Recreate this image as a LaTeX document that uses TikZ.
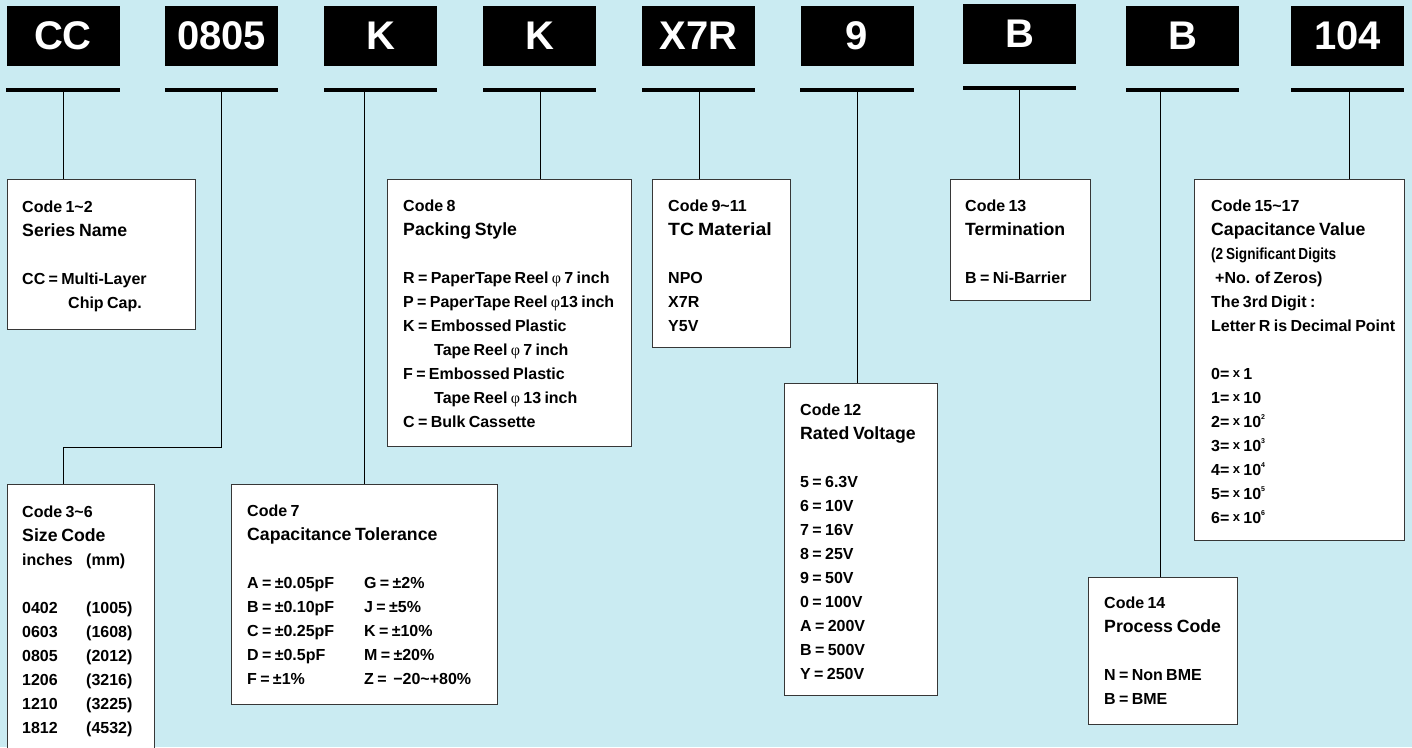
\documentclass[tikz,border=0pt]{standalone}
\usepackage{fontspec}
\setmainfont{Liberation Sans}[WordSpace=0.75]
\newfontfamily\phifont{Liberation Serif}
\usepackage{graphicx}
\definecolor{bgblue}{RGB}{202,235,242}
\definecolor{boxline}{RGB}{55,55,55}
\newcommand\cttl{\fontsize{17.7pt}{24pt}\selectfont}
\newcommand\phis{{\phifont\mdseries φ}}
\newcommand\xt{{\fontsize{13pt}{24pt}\selectfont\raisebox{2pt}{x}}}
\newcommand\supx[1]{\raisebox{8pt}{\fontsize{7pt}{7pt}\selectfont #1}}
\newcommand\lead{\rule{0pt}{12pt}}
\newcommand\tld{\textasciitilde}
\tikzset{
  hdr/.style={fill=black, text=white, font=\bfseries\fontsize{40pt}{40pt}\selectfont,
    minimum width=113pt, minimum height=60pt, inner sep=0pt},
  uline/.style={line width=4pt, black},
  codebox/.style={draw=boxline, fill=white, line width=1.3pt, anchor=north west, inner sep=0pt},
  codetext/.style={anchor=north west, inner sep=0pt, align=left,
    font=\bfseries\fontsize{16pt}{24pt}\selectfont},
  conn/.style={line width=1pt, black}
}
\begin{document}
\begin{tikzpicture}[x=1pt,y=-1pt]
\useasboundingbox[fill=bgblue] (0,0) rectangle (1412,747);

% header boxes
\node[hdr] (h1) at (63,36) {CC};
\node[hdr] (h2) at (221.5,36) {0805};
\node[hdr] (h3) at (380.5,36) {K};
\node[hdr] (h4) at (539.5,36) {K};
\node[hdr] (h5) at (698.5,36) {X7R};
\node[hdr] (h6) at (857,36) {9};
\node[hdr] (h7) at (1019.5,34) {B};
\node[hdr] (h8) at (1182.5,36) {B};
\node[hdr] (h9) at (1347.5,36) {104};

% underlines
\draw[uline] (6,90) -- (120,90);
\draw[uline] (165,90) -- (278,90);
\draw[uline] (324,90) -- (437,90);
\draw[uline] (483,90) -- (596,90);
\draw[uline] (642,90) -- (755,90);
\draw[uline] (800,90) -- (914,90);
\draw[uline] (963,88) -- (1076,88);
\draw[uline] (1126,90) -- (1239,90);
\draw[uline] (1291,90) -- (1404,90);

\coordinate (u1) at (63,92);
\coordinate (u2) at (221,92);
\coordinate (u3) at (364,92);
\coordinate (u4) at (540,92);
\coordinate (u5) at (699,92);
\coordinate (u6) at (857,92);
\coordinate (u7) at (1019,90);
\coordinate (u8) at (1160,92);
\coordinate (u9) at (1349,92);
\coordinate (k2) at (63,447);

% code boxes
\node[codebox, minimum width=188pt, minimum height=150pt] (b12) at (7,179) {};
\node[codebox, minimum width=147pt, minimum height=280pt] (b36) at (7,484) {};
\node[codebox, minimum width=266pt, minimum height=220pt] (b7) at (231,484) {};
\node[codebox, minimum width=244pt, minimum height=267pt] (b8) at (387,179) {};
\node[codebox, minimum width=138pt, minimum height=168pt] (b911) at (652,179) {};
\node[codebox, minimum width=153pt, minimum height=312pt] (bv) at (784,383) {};
\node[codebox, minimum width=140pt, minimum height=121pt] (b13) at (950,179) {};
\node[codebox, minimum width=149pt, minimum height=147pt] (b14) at (1088,577) {};
\node[codebox, minimum width=210pt, minimum height=361pt] (b1517) at (1194,179) {};

% connectors
\draw[conn] (u1) -- (u1 |- b12.north);
\draw[conn] (u2) |- (k2) -- (k2 |- b36.north);
\draw[conn] (u3) -- (u3 |- b7.north);
\draw[conn] (u4) -- (u4 |- b8.north);
\draw[conn] (u5) -- (u5 |- b911.north);
\draw[conn] (u6) -- (u6 |- bv.north);
\draw[conn] (u7) -- (u7 |- b13.north);
\draw[conn] (u8) -- (u8 |- b14.north);
\draw[conn] (u9) -- (u9 |- b1517.north);

% texts
\node[codetext] (t12) at (22,200) {\lead Code 1\tld2\\
{\cttl Series Name}\\[24pt]
CC = Multi-Layer\\
\hspace*{46pt}Chip Cap.};

\node[codetext] (t36) at (22,505) {\lead Code 3\tld6\\
{\cttl Size Code}\\
\makebox[64pt][l]{inches}(mm)\\[24pt]
\makebox[64pt][l]{0402}(1005)\\
\makebox[64pt][l]{0603}(1608)\\
\makebox[64pt][l]{0805}(2012)\\
\makebox[64pt][l]{1206}(3216)\\
\makebox[64pt][l]{1210}(3225)\\
\makebox[64pt][l]{1812}(4532)};

\node[codetext] (t7) at (247,504) {\lead Code 7\\
{\cttl Capacitance Tolerance}\\[24pt]
\makebox[117pt][l]{A = ±0.05pF}G = ±2\%\\
\makebox[117pt][l]{B = ±0.10pF}J = ±5\%\\
\makebox[117pt][l]{C = ±0.25pF}K = ±10\%\\
\makebox[117pt][l]{D = ±0.5pF}M = ±20\%\\
\makebox[117pt][l]{F = ±1\%}Z = \ −20\tld+80\%};

\node[codetext] (t8) at (403,199) {\lead Code 8\\
{\cttl Packing Style}\\[24pt]
R = PaperTape Reel \phis\ 7 inch\\
P = PaperTape Reel \phis13 inch\\
K = Embossed Plastic\\
\hspace*{31pt}Tape Reel \phis\ 7 inch\\
F = Embossed Plastic\\
\hspace*{31pt}Tape Reel \phis\ 13 inch\\
C = Bulk Cassette};

\node[codetext] (t911) at (668,199) {\lead Code 9\tld11\\
{\cttl\scalebox{1.1}[1]{TC Material}}\\[24pt]
NPO\\
X7R\\
Y5V};

\node[codetext] (tv) at (800,403) {\lead Code 12\\
{\cttl Rated Voltage}\\[24pt]
5 = 6.3V\\
6 = 10V\\
7 = 16V\\
8 = 25V\\
9 = 50V\\
0 = 100V\\
A = 200V\\
B = 500V\\
Y = 250V};

\node[codetext] (t13) at (965,199) {\lead Code 13\\
{\cttl Termination}\\[24pt]
B = Ni-Barrier};

\node[codetext] (t14) at (1104,596) {\lead Code 14\\
{\cttl Process Code}\\[24pt]
N = Non BME\\
B = BME};

\node[codetext] (t1517) at (1211,199) {\lead Code 15\tld17\\
{\cttl Capacitance Value}\\
\scalebox{0.85}[1]{(2 Significant Digits}\\
\hspace*{4pt}+No. of Zeros)\\
The 3rd Digit :\\
Letter R is Decimal Point\\[24pt]
0= \xt\ 1\\
1= \xt\ 10\\
2= \xt\ 10\supx{2}\\
3= \xt\ 10\supx{3}\\
4= \xt\ 10\supx{4}\\
5= \xt\ 10\supx{5}\\
6= \xt\ 10\supx{6}};
\end{tikzpicture}
\end{document}
